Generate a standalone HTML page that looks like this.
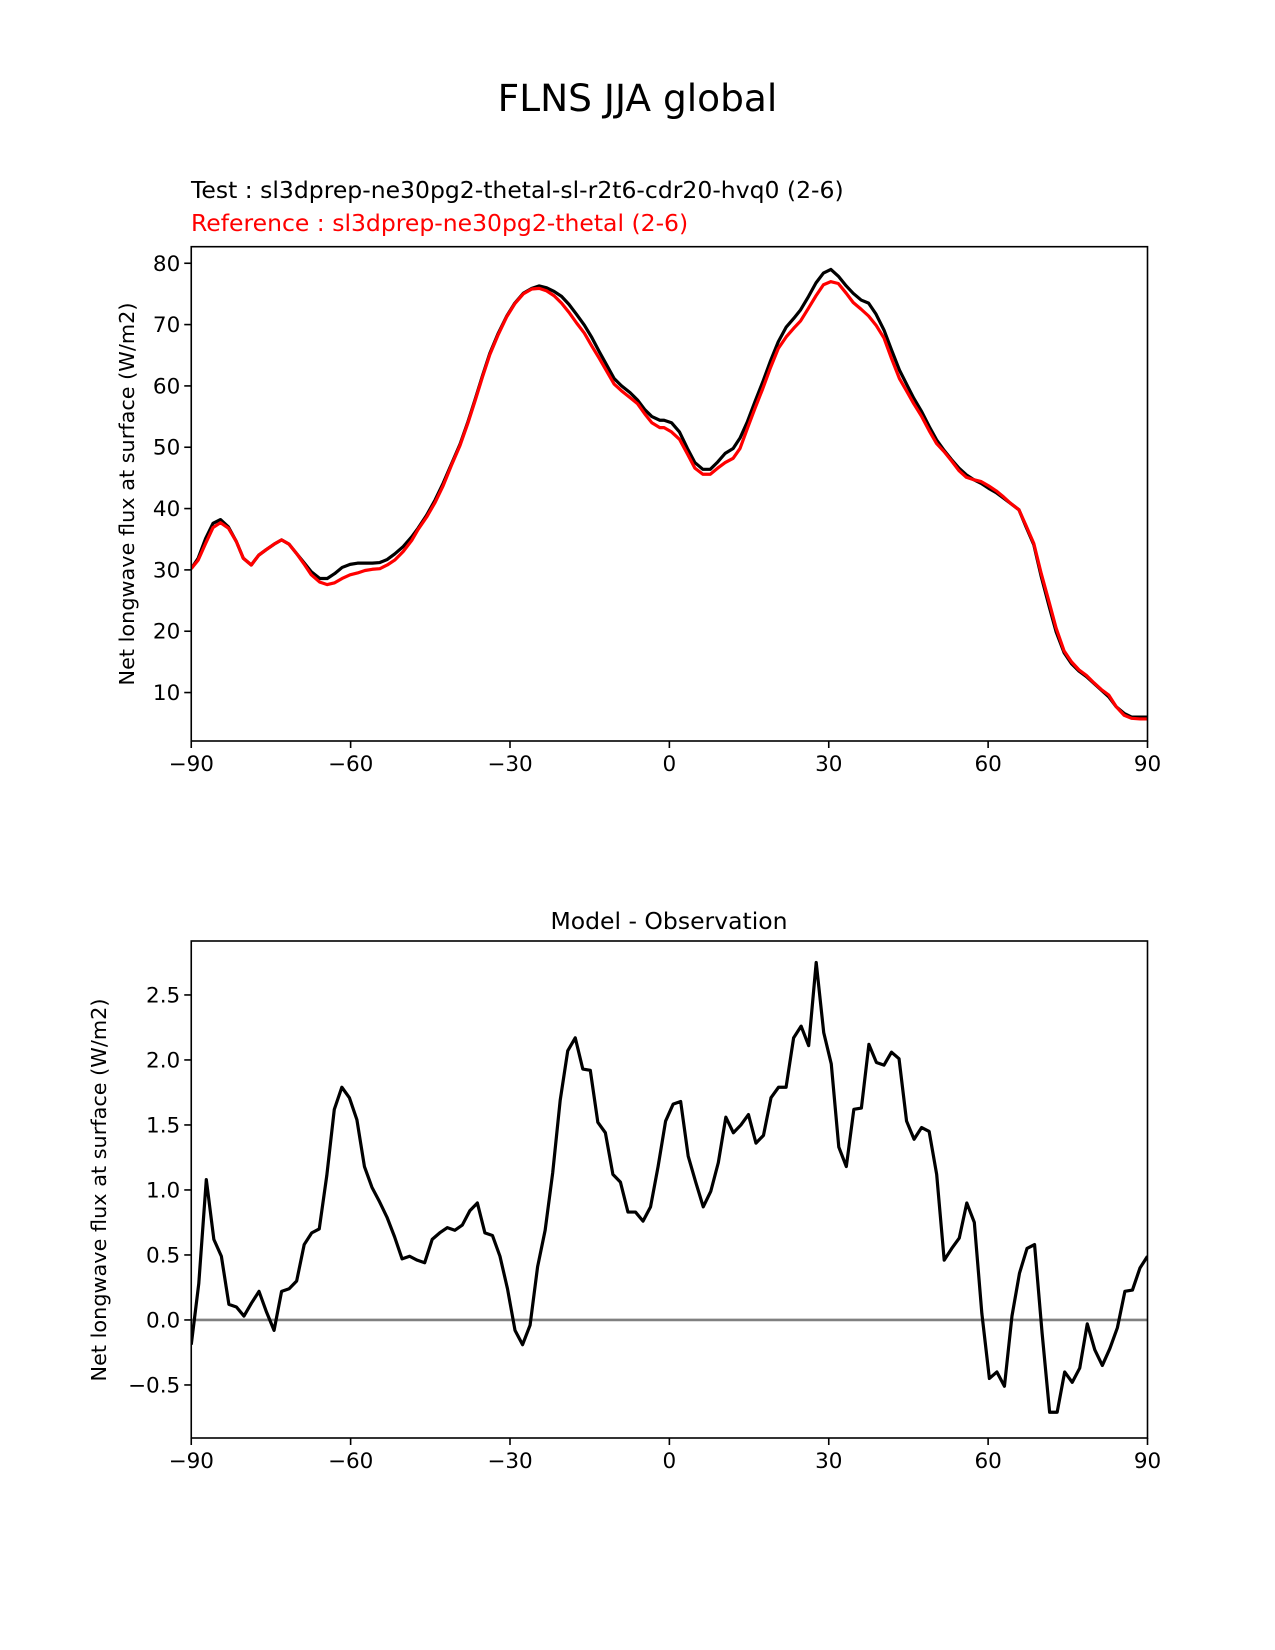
<!DOCTYPE html>
<html><head><meta charset="utf-8">
<style>
html,body{margin:0;padding:0;background:#fff;}
svg{display:block;font-family:"DejaVu Sans","Liberation Sans",sans-serif;}
</style></head>
<body>
<svg id="fig" width="1275" height="1650" viewBox="0 0 1275 1650" xmlns="http://www.w3.org/2000/svg">
<text x="637.5" y="111" font-size="37.5" text-anchor="middle">FLNS JJA global</text>
<text x="191" y="198" font-size="23.5">Test : sl3dprep-ne30pg2-thetal-sl-r2t6-cdr20-hvq0 (2-6)</text>
<text x="191" y="231" font-size="23.5" fill="#ff0000">Reference : sl3dprep-ne30pg2-thetal (2-6)</text>
<text x="669" y="929" font-size="23.5" text-anchor="middle">Model - Observation</text>
<text transform="translate(134,494) rotate(-90)" font-size="20.8" text-anchor="middle">Net longwave flux at surface (W/m2)</text>
<text transform="translate(106,1190) rotate(-90)" font-size="20.8" text-anchor="middle">Net longwave flux at surface (W/m2)</text>
<g id="top"></g>
<g id="bot"></g>
</svg>
<script>
// ---- top panel data ----
const topLats = [-90,-88.7,-87.3,-85.9,-84.5,-83.0,-81.5,-80.2,-78.7,-77.3,-75.9,-74.4,-73.0,-71.6,-70.2,-68.8,-67.4,-65.8,-64.4,-63.0,-61.6,-60.1,-58.7,-57.3,-55.9,-54.5,-53.1,-51.7,-50.1,-48.5,-47.3,-45.7,-44.1,-42.6,-41.0,-39.4,-37.9,-36.6,-35.2,-33.8,-32.2,-30.6,-29.1,-27.5,-25.9,-24.5,-23.1,-21.7,-20.3,-18.9,-17.5,-16.0,-14.6,-13.2,-11.8,-10.4,-9.0,-7.4,-6.0,-4.6,-3.3,-1.8,-1.0,0.4,1.9,3.4,4.8,6.3,7.7,9.1,10.5,12.0,13.3,14.7,16.1,17.6,19.0,20.5,22.0,23.4,24.7,26.2,27.6,29.0,30.4,31.8,33.3,34.6,36.1,37.5,38.9,40.4,41.8,43.3,44.7,46.0,47.5,48.9,50.3,51.7,53.1,54.5,55.9,57.3,58.7,60.1,61.5,62.9,64.3,65.8,67.1,68.6,70.0,71.5,72.8,74.3,75.7,77.1,78.5,79.9,81.3,82.7,84.1,85.6,87.0,88.6,90];
const testVals = [30.2,31.9,35.1,37.6,38.2,37.0,34.6,31.9,30.8,32.4,33.3,34.2,34.9,34.2,32.7,31.2,29.7,28.6,28.6,29.4,30.4,30.9,31.1,31.1,31.1,31.2,31.7,32.6,33.8,35.4,36.8,38.9,41.4,44.1,47.3,50.5,54.2,57.7,61.6,65.3,68.6,71.4,73.5,75.1,75.9,76.3,76.0,75.4,74.6,73.3,71.7,69.9,67.9,65.6,63.4,61.2,60.0,58.9,57.7,56.1,55.0,54.4,54.4,54.0,52.5,49.8,47.5,46.4,46.4,47.6,49.0,49.8,51.5,54.2,57.4,60.7,64.0,67.2,69.6,71.0,72.4,74.6,76.8,78.4,79.0,77.9,76.3,75.1,74.0,73.5,71.7,69.1,65.9,62.6,60.2,58.0,55.8,53.4,51.2,49.5,48.0,46.6,45.5,44.7,44.1,43.3,42.6,41.7,40.8,39.8,37.1,34.1,28.9,24.0,19.9,16.5,14.7,13.5,12.6,11.5,10.4,9.3,7.7,6.6,6.0,6.0,6.0];
const refVals = [30.2,31.6,34.3,36.9,37.7,36.8,34.6,31.9,30.8,32.4,33.3,34.2,34.9,34.2,32.7,31.0,29.2,28.0,27.6,27.9,28.6,29.2,29.5,29.9,30.1,30.2,30.8,31.6,33.0,34.8,36.6,38.6,41.0,43.7,47.1,50.3,54.0,57.5,61.4,65.1,68.4,71.3,73.4,75.0,75.8,75.9,75.5,74.7,73.5,72.0,70.3,68.6,66.5,64.5,62.4,60.3,59.2,58.1,57.1,55.4,54.0,53.2,53.2,52.5,51.3,48.9,46.6,45.6,45.6,46.6,47.5,48.2,49.8,53.1,56.3,59.6,62.9,66.1,68.0,69.4,70.6,72.7,74.7,76.5,77.0,76.7,75.1,73.6,72.5,71.4,69.9,67.8,64.5,61.2,59.1,57.1,55.0,52.7,50.6,49.3,47.8,46.2,45.1,44.7,44.4,43.7,42.9,41.9,40.8,39.8,37.3,34.3,29.4,24.7,20.5,16.8,15.0,13.7,12.8,11.6,10.5,9.6,7.7,6.3,5.8,5.7,5.7];
const topYTicks = [10,20,30,40,50,60,70,80];
const xTicks = [-90,-60,-30,0,30,60,90];
const xTickLabels = ["\u221290","\u221260","\u221230","0","30","60","90"];
// ---- bottom panel data (lat grid -90..90, 128 points) ----
const diffVals = [-0.19,0.28,1.08,0.62,0.49,0.12,0.10,0.03,0.13,0.22,0.06,-0.08,0.22,0.24,0.30,0.58,0.67,0.70,1.11,1.62,1.79,1.71,1.54,1.18,1.02,0.91,0.79,0.64,0.47,0.49,0.46,0.44,0.62,0.67,0.71,0.69,0.73,0.84,0.90,0.67,0.65,0.49,0.24,-0.08,-0.19,-0.04,0.41,0.69,1.13,1.69,2.07,2.17,1.93,1.92,1.52,1.44,1.12,1.06,0.83,0.83,0.76,0.87,1.18,1.53,1.66,1.68,1.26,1.06,0.87,0.99,1.21,1.56,1.44,1.50,1.58,1.36,1.42,1.71,1.79,1.79,2.17,2.26,2.11,2.75,2.21,1.97,1.33,1.18,1.62,1.63,2.12,1.98,1.96,2.06,2.01,1.53,1.39,1.48,1.45,1.12,0.46,0.55,0.63,0.90,0.75,0.05,-0.45,-0.40,-0.51,0.03,0.36,0.55,0.58,-0.10,-0.71,-0.71,-0.40,-0.48,-0.37,-0.03,-0.23,-0.35,-0.22,-0.06,0.22,0.23,0.40,0.49];
const botYTicks = [-0.5,0.0,0.5,1.0,1.5,2.0,2.5];
const botYTickLabels = ["\u22120.5","0.0","0.5","1.0","1.5","2.0","2.5"];

const NS = "http://www.w3.org/2000/svg";
const L = 191.25, R = 1147.5;
function mk(tag, attrs, parent){const e=document.createElementNS(NS,tag);for(const k in attrs)e.setAttribute(k,attrs[k]);parent.appendChild(e);return e;}
function xs(lat){return L + (lat + 90) / 180 * (R - L);}

function panel(g, top, bot, ymin, ymax, yticks, ylabels, prefix){
  const ys = v => bot - (v - ymin) / (ymax - ymin) * (bot - top);
  xTicks.forEach((t,i)=>{
    const tk = mk('line',{x1:xs(t),x2:xs(t),y1:bot,y2:bot+7,stroke:'#000','stroke-width':1.6},g);
    
    
    const tl = mk('text',{x:xs(t),y:bot+30,'font-size':21.5,'text-anchor':'middle'},g);
    tl.textContent = xTickLabels[i];
    
    
  });
  yticks.forEach((t,i)=>{
    const y = ys(t);
    const tk = mk('line',{x1:L-7,x2:L,y1:y,y2:y,stroke:'#000','stroke-width':1.6},g);
    
    
    const tl = mk('text',{x:L-11,y:y+7.5,'font-size':21.5,'text-anchor':'end'},g);
    tl.textContent = ylabels[i];
    
    
  });
  return ys;
}
function line(g, lats, vals, ys, color, w, name){
  const d = vals.map((v,i)=>(i?'L':'M')+xs(lats[i]).toFixed(2)+','+ys(v).toFixed(2)).join(' ');
  const p = mk('path',{d:d,fill:'none',stroke:color,'stroke-width':w,'stroke-linejoin':'round','clip-path':'url(#'+name.split('-')[0]+'clip)'},g);
  
  
}
const svg = document.getElementById('fig');
const defs = mk('defs',{},svg);
const c1 = mk('clipPath',{id:'topclip'},defs); mk('rect',{x:L,y:246.7,width:R-L,height:741-246.7},c1);
const c2 = mk('clipPath',{id:'botclip'},defs); mk('rect',{x:L,y:941,width:R-L,height:1438-941},c2);

const gt = document.getElementById('top');
const ysT = panel(gt, 246.7, 741, 2.1, 82.7, topYTicks, topYTicks.map(String), 'top');
line(gt, topLats, testVals, ysT, '#000', 3.2, 'top-test-line');
line(gt, topLats, refVals, ysT, '#ff0000', 3.2, 'top-reference-line');
const f1 = mk('rect',{x:L,y:246.7,width:R-L,height:741-246.7,fill:'none',stroke:'#000','stroke-width':1.6},gt);



const gb = document.getElementById('bot');
const ysB = panel(gb, 941, 1438, -0.908, 2.915, botYTicks, botYTickLabels, 'bottom');
const diffLats = diffVals.map((v,i)=> -90 + i*180/(diffVals.length-1));
const z = mk('line',{x1:L,x2:R,y1:ysB(0),y2:ysB(0),stroke:'#808080','stroke-width':2.6},gb);


line(gb, diffLats, diffVals, ysB, '#000', 3.2, 'bot-difference-line');
const f2 = mk('rect',{x:L,y:941,width:R-L,height:1438-941,fill:'none',stroke:'#000','stroke-width':1.6},gb);


</script>
</body></html>
